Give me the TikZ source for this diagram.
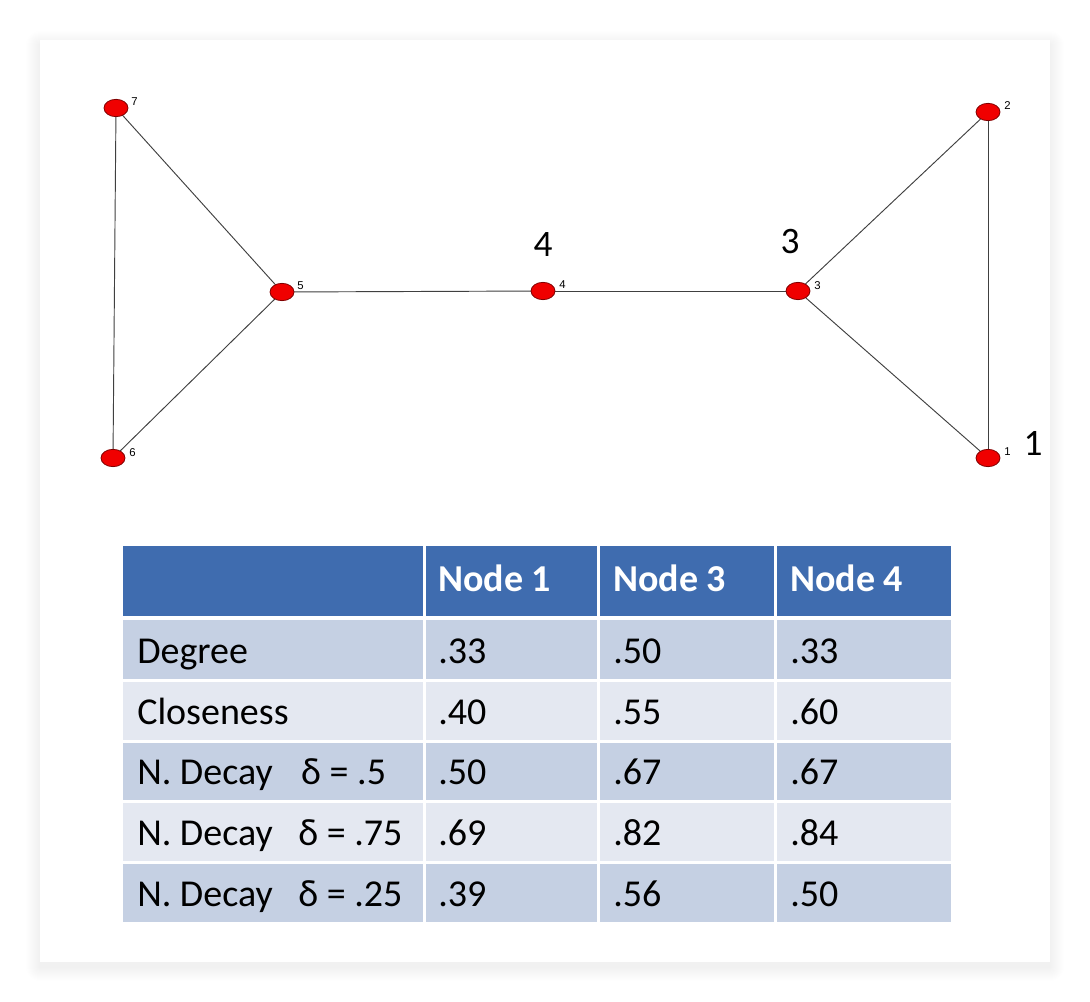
\documentclass[tikz,border=0pt]{standalone}
\usepackage{fontspec}
\usetikzlibrary{shapes.geometric}
\setmainfont{Carlito}
\newfontfamily\smallfont{Liberation Sans}
\definecolor{hdr}{HTML}{3F6CAF}
\definecolor{rowdark}{HTML}{C5D0E3}
\definecolor{rowlight}{HTML}{E4E8F1}
\definecolor{nodered}{HTML}{F00000}
\definecolor{edgegray}{HTML}{404040}
\pgfdeclarelayer{bg}
\pgfdeclarelayer{edges}
\pgfsetlayers{bg,edges,main}
\begin{document}
\begin{tikzpicture}[x=0.75pt,y=-0.75pt,
  vert/.style={ellipse,draw=red!50!black,line width=0.6pt,fill=nodered,minimum width=18pt,minimum height=13pt,inner sep=0pt},
  tiny/.style={font=\smallfont\fontsize{8.5}{9}\selectfont,inner sep=0pt,anchor=west},
  big/.style={font=\fontsize{28}{30}\selectfont,inner sep=0pt},
  edge/.style={draw=edgegray,line width=0.7pt},
  celltext/.style={font=\fontsize{28.5}{30}\selectfont,inner sep=0pt,anchor=base west},
  hdrtext/.style={font=\bfseries\fontsize{28.5}{30}\selectfont,text=white,inner sep=0pt,anchor=base west}]
\useasboundingbox (0,0) rectangle (1090,1002);
\begin{pgfonlayer}{bg}
\fill[white] (0,0) rectangle (1090,1002);
\foreach \i in {1,...,40}{
  \pgfmathsetmacro\r{\i*0.75}
  \fill[black,opacity=0.0015,rounded corners=\r pt] (40-\i,45-\i) rectangle (1050+\i,967+\i);
}
\foreach \i in {1,...,14}{
  \pgfmathsetmacro\r{\i*0.75}
  \fill[black,opacity=0.0022,rounded corners=\r pt] (40-\i,45-\i) rectangle (1050+\i,967+\i);
}
\fill[white] (40,40) rectangle (1050,962);
\end{pgfonlayer}
% graph
\node[vert] (n7) at (116,108) {};
\node[vert] (n2) at (988,112) {};
\node[vert] (n5) at (282,292) {};
\node[vert] (n4) at (543,291) {};
\node[vert] (n3) at (798,291) {};
\node[vert] (n6) at (113,458) {};
\node[vert] (n1) at (988,458) {};
\begin{pgfonlayer}{edges}
\draw[edge] (n7.center) -- (n6.center);
\draw[edge] (n7.center) -- (n5.center);
\draw[edge] (n6.center) -- (n5.center);
\draw[edge] (n5.center) -- (n4.center);
\draw[edge] (n4.center) -- (n3.center);
\draw[edge] (n3.center) -- (n2.center);
\draw[edge] (n3.center) -- (n1.center);
\draw[edge] (n2.center) -- (n1.center);
\end{pgfonlayer}
\node[tiny] (l7) at (131,102) {7};
\node[tiny] (l2) at (1004,106) {2};
\node[tiny] (l5) at (297,286) {5};
\node[tiny] (l4) at (559,285) {4};
\node[tiny] (l3) at (814,286) {3};
\node[tiny] (l6) at (129,453) {6};
\node[tiny] (l1) at (1004,452) {1};
\node[big] (b4) at (543,245) {4};
\node[big] (b3) at (790,242) {3};
\node[big] (b1) at (1033,443) {1};
% table
\fill[hdr] (123,546) rectangle (422.5,616);
\fill[hdr] (425.5,546) rectangle (596.5,616);
\fill[hdr] (599.5,546) rectangle (773.5,616);
\fill[hdr] (776.5,546) rectangle (951,616);
\foreach \t/\b/\c in {620/679/rowdark,681.5/740/rowlight,742.5/800/rowdark,802.5/861/rowlight,863.5/922/rowdark}{
  \fill[\c] (123,\t) rectangle (422.5,\b);
  \fill[\c] (425.5,\t) rectangle (596.5,\b);
  \fill[\c] (599.5,\t) rectangle (773.5,\b);
  \fill[\c] (776.5,\t) rectangle (951,\b);
}
\node[hdrtext] (h1) at (438,591) {Node 1};
\node[hdrtext] (h3) at (613,591) {Node 3};
\node[hdrtext] (h4) at (790,591) {Node 4};
\node[celltext] (r1) at (137,663) {Degree};
\node[celltext] (r2) at (137,724) {Closeness};
\node[celltext] (r3) at (137,784) {N. Decay\hspace{0.75em}δ = .5};
\node[celltext] (r4) at (137,845) {N. Decay\hspace{0.45em} δ = .75};
\node[celltext] (r5) at (137,906) {N. Decay\hspace{0.45em} δ = .25};
\foreach \y/\a/\b/\c in {663/.33/.50/.33,724/.40/.55/.60,784/.50/.67/.67,845/.69/.82/.84,906/.39/.56/.50}{
  \node[celltext] at (438,\y) {\a};
  \node[celltext] at (613,\y) {\b};
  \node[celltext] at (790,\y) {\c};
}
\end{tikzpicture}
\end{document}
